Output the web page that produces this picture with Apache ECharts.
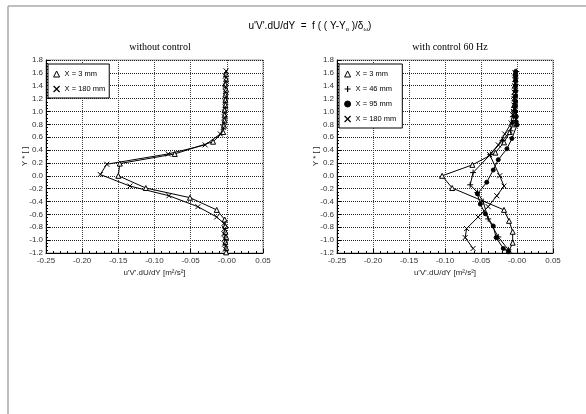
<!DOCTYPE html>
<html><head><meta charset="utf-8">
<script src="https://cdn.jsdelivr.net/npm/echarts@6/dist/echarts.min.js"></script>
<style>html,body{margin:0;padding:0;background:#fff}#c{width:586px;height:414px}</style>
</head><body><div id="c"></div>
<script>
// ---- tick labels ----
const xTickLabels = ['-0.25','-0.20','-0.15','-0.10','-0.05','-0.00','0.05'];
const yTickLabels = ['-1.2','-1.0','-0.8','-0.6','-0.4','-0.2','0.0','0.2','0.4','0.6','0.8','1.0','1.2','1.4','1.6','1.8'];

// ---- left panel: without control ----
const L3_y  = [1.58,1.50,1.42,1.34,1.26,1.18,1.10,1.02,0.94,0.86,0.78,0.68,0.53,0.34,0.19,0.00,-0.19,-0.34,-0.53,-0.68,-0.78,-0.87,-0.95,-1.03,-1.12,-1.19];
const L3_x  = [-0.001,-0.001,-0.002,-0.001,-0.002,-0.002,-0.002,-0.003,-0.003,-0.003,-0.004,-0.005,-0.019,-0.072,-0.148,-0.150,-0.112,-0.051,-0.014,-0.003,-0.002,-0.002,-0.001,-0.002,-0.001,-0.001];
const L180_y = [1.63,1.55,1.47,1.39,1.31,1.23,1.15,1.07,0.99,0.91,0.83,0.75,0.65,0.48,0.34,0.18,0.02,-0.16,-0.31,-0.48,-0.64,-0.74,-0.82,-0.90,-0.98,-1.06,-1.14];
const L180_x = [-0.001,-0.002,-0.001,-0.002,-0.002,-0.001,-0.002,-0.002,-0.003,-0.003,-0.004,-0.005,-0.009,-0.030,-0.081,-0.166,-0.175,-0.134,-0.080,-0.040,-0.014,-0.004,-0.003,-0.004,-0.003,-0.003,-0.002];

// ---- right panel: with control 60 Hz ----
const R3_y  = [1.60,1.50,1.40,1.30,1.20,1.10,1.00,0.90,0.80,0.68,0.52,0.36,0.17,0.00,-0.19,-0.53,-0.70,-0.87,-1.04,-1.17];
const R3_x  = [-0.002,-0.002,-0.003,-0.003,-0.003,-0.004,-0.004,-0.005,-0.006,-0.010,-0.018,-0.030,-0.062,-0.104,-0.090,-0.018,-0.011,-0.006,-0.006,-0.011];
const R46_y = [1.62,1.52,1.42,1.32,1.22,1.12,1.02,0.92,0.82,0.70,0.55,0.33,0.05,-0.14,-0.26,-0.40,-0.67,-0.95,-1.15];
const R46_x = [-0.001,-0.002,-0.002,-0.002,-0.003,-0.003,-0.004,-0.005,-0.006,-0.009,-0.020,-0.037,-0.061,-0.065,-0.055,-0.047,-0.040,-0.026,-0.012];
const R95_y = [1.62,1.55,1.48,1.40,1.32,1.24,1.16,1.08,1.00,0.92,0.84,0.79,0.58,0.42,0.25,0.09,-0.10,-0.28,-0.44,-0.59,-0.78,-0.96,-1.13,-1.18];
const R95_x = [-0.002,-0.002,-0.002,-0.002,-0.002,-0.002,-0.002,-0.002,-0.002,-0.001,-0.001,0.000,-0.007,-0.014,-0.026,-0.033,-0.042,-0.055,-0.051,-0.044,-0.033,-0.029,-0.019,-0.012];
const R180_y = [1.60,1.50,1.40,1.30,1.20,1.10,1.00,0.95,0.82,0.65,0.48,0.33,0.00,-0.16,-0.31,-0.48,-0.64,-0.82,-0.96,-1.13];
const R180_x = [-0.003,-0.003,-0.003,-0.004,-0.004,-0.004,-0.005,-0.006,-0.008,-0.017,-0.026,-0.038,-0.024,-0.018,-0.028,-0.040,-0.054,-0.070,-0.072,-0.061];

const zip = (xs, ys) => xs.map((x, i) => [x, ys[i]]);

const SYM_TRI = 'triangle';
const SYM_CROSS = 'path://M0,0L10,10M10,0L0,10';
const SYM_PLUS = 'path://M5,0L5,10M0,5L10,5';

const FONT = 'Liberation Sans, Arial, sans-serif';

function xAxis(gi) {
  return {
    gridIndex: gi, type: 'value', min: -0.25, max: 0.05, interval: 0.05,
    name: "u'V'.dU/dY [m²/s²]", nameLocation: 'middle', nameGap: 16, nameMoveOverlap: false,
    nameTextStyle: { fontFamily: FONT, fontSize: 8, color: '#222' },
    axisLine: { show: true, onZero: false, lineStyle: { color: '#000', width: 1 } },
    axisTick: { show: true, inside: true, length: 4, lineStyle: { color: '#000' } },
    minorTick: { show: true, splitNumber: 5, length: 2, lineStyle: { color: '#000' } },
    axisLabel: { fontFamily: FONT, fontSize: 8, color: '#333', margin: 4,
      formatter: v => xTickLabels[Math.round((v + 0.25) / 0.05)] },
    splitLine: { show: true, lineStyle: { color: '#444', type: [1, 1], width: 1 } }
  };
}
function yAxis(gi) {
  return {
    gridIndex: gi, type: 'value', min: -1.2, max: 1.8, interval: 0.2,
    name: 'Y * [ ]', nameLocation: 'middle', nameGap: 17, nameRotate: 90, nameMoveOverlap: false,
    nameTextStyle: { fontFamily: FONT, fontSize: 8, color: '#222' },
    axisLine: { show: true, onZero: false, lineStyle: { color: '#000', width: 1 } },
    axisTick: { show: true, inside: true, length: 4, lineStyle: { color: '#000' } },
    minorTick: { show: true, splitNumber: 4, length: 2, lineStyle: { color: '#000' } },
    axisLabel: { fontFamily: FONT, fontSize: 8, color: '#333', margin: 3,
      formatter: v => yTickLabels[Math.round((v + 1.2) / 0.2)] },
    splitLine: { show: true, lineStyle: { color: '#222', type: [1, 1], width: 1 } }
  };
}
function series(name, gi, data, symbol, size, fill) {
  return {
    name, type: 'line', xAxisIndex: gi, yAxisIndex: gi, data,
    symbol, symbolSize: size, showSymbol: true,
    lineStyle: { color: '#000', width: 1 },
    itemStyle: { color: fill, borderColor: '#000', borderWidth: 1 },
    emphasis: { disabled: true }, animation: false, z: 3
  };
}
const legendBase = {
  orient: 'vertical', itemWidth: 6, itemHeight: 6, itemGap: 7,
  borderColor: '#000', borderWidth: 1, backgroundColor: '#fff',
  padding: [6, 4, 5, 5],
  textStyle: { fontFamily: FONT, fontSize: 7.5, color: '#000' }, selectedMode: false
};

const chart = echarts.init(document.getElementById('c'), null, { renderer: 'canvas' });
chart.setOption({
  backgroundColor: '#fff',
  animation: false,
  title: [
    { text: "u'V'.dU/dY  =  f ( ( Y-Y{s|o} )/δ{s|ω})", left: 305, top: 15, textAlign: 'center',
      textStyle: { fontFamily: FONT, fontSize: 10, fontWeight: 'normal', color: '#000',
        rich: { s: { fontSize: 6, verticalAlign: 'bottom', padding: [6, 0, 0, 0], fontFamily: FONT } } } },
    { text: 'without control', left: 155, top: 37, textAlign: 'center',
      textStyle: { fontFamily: 'Liberation Serif, Times New Roman, serif', fontSize: 10, fontWeight: 'normal', color: '#000' } },
    { text: 'with control 60 Hz', left: 445, top: 37, textAlign: 'center',
      textStyle: { fontFamily: 'Liberation Serif, Times New Roman, serif', fontSize: 10, fontWeight: 'normal', color: '#000' } }
  ],
  grid: [
    { left: 46, top: 60, width: 217, height: 193, show: true, borderColor: '#999', borderWidth: 1, backgroundColor: 'transparent' },
    { left: 337, top: 60, width: 216, height: 193, show: true, borderColor: '#999', borderWidth: 1, backgroundColor: 'transparent' }
  ],
  xAxis: [xAxis(0), xAxis(1)],
  yAxis: [yAxis(0), yAxis(1)],
  legend: [
    Object.assign({}, legendBase, { left: 48, top: 64,
      data: [
        { name: 'X = 3 mm', icon: SYM_TRI, itemStyle: { color: '#fff', borderColor: '#000', borderWidth: 1 } },
        { name: 'X = 180 mm', icon: SYM_CROSS, itemStyle: { color: '#fff', borderColor: '#000', borderWidth: 1.2 } }
      ] }),
    Object.assign({}, legendBase, { left: 339, top: 64,
      data: [
        { name: 'X = 3 mm ', icon: SYM_TRI, itemStyle: { color: '#fff', borderColor: '#000', borderWidth: 1 } },
        { name: 'X = 46 mm', icon: SYM_PLUS, itemStyle: { color: '#fff', borderColor: '#000', borderWidth: 1.2 } },
        { name: 'X = 95 mm', icon: 'circle', itemStyle: { color: '#000', borderColor: '#000', borderWidth: 1 } },
        { name: 'X = 180 mm ', icon: SYM_CROSS, itemStyle: { color: '#fff', borderColor: '#000', borderWidth: 1.2 } }
      ] })
  ],
  series: [
    series('X = 3 mm', 0, zip(L3_x, L3_y), SYM_TRI, 5, '#fff'),
    series('X = 180 mm', 0, zip(L180_x, L180_y), SYM_CROSS, 5, '#fff'),
    series('X = 3 mm ', 1, zip(R3_x, R3_y), SYM_TRI, 5, '#fff'),
    series('X = 46 mm', 1, zip(R46_x, R46_y), SYM_PLUS, 6, '#fff'),
    series('X = 95 mm', 1, zip(R95_x, R95_y), 'circle', 4, '#000'),
    series('X = 180 mm ', 1, zip(R180_x, R180_y), SYM_CROSS, 5, '#fff')
  ],
  graphic: [
    { type: 'line', shape: { x1: 8, y1: 6, x2: 586, y2: 6 }, style: { stroke: '#aaa', lineWidth: 1.5 }, silent: true },
    { type: 'line', shape: { x1: 8, y1: 6, x2: 8, y2: 414 }, style: { stroke: '#aaa', lineWidth: 1.5 }, silent: true }
  ]
});
</script></body></html>
